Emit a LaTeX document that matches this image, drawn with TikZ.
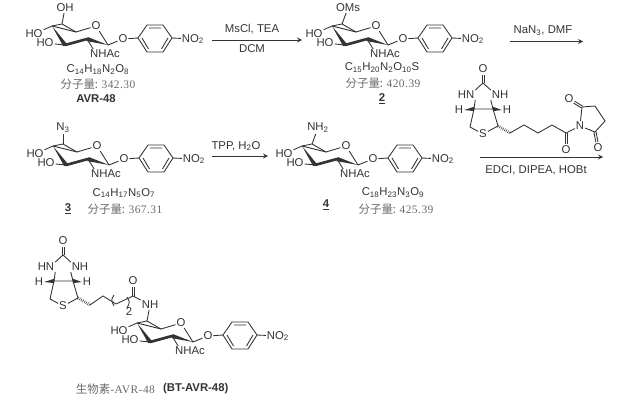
\documentclass[tikz,border=0pt]{standalone}
\usepackage{fontspec}
\setmainfont{Liberation Sans}
\newfontfamily\cjk{Noto Sans CJK SC}
\newfontfamily\numfont[LetterSpace=4]{Liberation Serif}
\usetikzlibrary{calc}
\definecolor{bondgray}{gray}{0.2}
\definecolor{mwgray}{gray}{0.42}
\newcommand{\chemfont}{\fontsize{8.5}{10}\selectfont}
\newcommand{\molwt}[1]{{\fontsize{8.6}{10}\selectfont\color{mwgray}\cjk 分子量: \numfont #1}}
\newcommand{\wedgebond}[2]{\fill[bondgray] (#1) -- ($(#2)!1.6pt!90:(#1)$) -- ($(#2)!1.6pt!-90:(#1)$) -- cycle;}
\newcommand{\dblbond}[2]{\draw[bond, shorten >=4.5pt] ($(#1)!.8pt!90:(#2)$) -- ($(#2)!.8pt!-90:(#1)$);
    \draw[bond, shorten >=4.5pt] ($(#1)!.8pt!-90:(#2)$) -- ($(#2)!.8pt!90:(#1)$);}
\tikzset{
    bond/.style={line width=.65pt, draw=bondgray},
    boldbond/.style={line width=2pt, draw=bondgray, line cap=round},
    hashbond/.style={line width=2.2pt, draw=bondgray, dash pattern=on .4pt off 1pt},
    atom/.style={inner sep=.6pt, font=\chemfont, text=bondgray},
    pics/sugar/.style 2 args={code={
        \coordinate (-c2) at (0,0);
        \coordinate (-c1) at (21,6);
        \coordinate (-c3) at (-22,6);
        \coordinate (-c4) at (-35,-13);
        \coordinate (-c5) at (-11,-7);
        \coordinate (-c6) at (-25,-15);
        \node[atom] (-o) at (9,-13) {O};
        \node[atom] (-r) at (#1,-31) {#2};
        \node[atom] (-ho) at (-53,-5) {HO};
        \node[atom] (-hob) at (-42,4) {HO};
        \node[atom] (-ac) at (18,15) {NHAc};
        \node[atom] (-op) at (36,0) {O};
        \node[atom] (-no) at (106,0) {NO\textsubscript{2}};
        \coordinate (-p1) at (51,-1);
        \coordinate (-p2) at (60,-14);
        \coordinate (-p3) at (76,-14);
        \coordinate (-p4) at (85,-1);
        \coordinate (-p5) at (76,13);
        \coordinate (-p6) at (60,13);
        \draw[bond] (-c4) -- (-c5) -- (-o) -- (-c1) -- (-op) -- (-p1);
        \draw[bond] (-c4) -- (-c6) -- (-c5);
        \draw[bond] (-c6) -- (-r);
        \draw[bond] (-c4) -- (-ho);
        \draw[bond] (-c3) -- (-hob);
        \draw[bond] (-c2) -- ([xshift=3pt]-ac.north west);
        \draw[bond] (-p1) -- (-p2) -- (-p3) -- (-p4) -- (-p5) -- (-p6) -- cycle;
        \draw[bond] (62,-11) -- (74,-11) (55,-1) -- (61.5,10) (74.5,10) -- (81,-1);
        \draw[bond] (-p4) -- (-no);
        \draw[boldbond] (-c3) -- (-c2);
        \wedgebond{-c4}{-c3}
        \wedgebond{-c1}{-c2}
    }},
    pics/biotin/.style={code={
        \coordinate (-bl) at (0,0);
        \coordinate (-br) at (19,0);
        \coordinate (-cu) at (9,-26);
        \coordinate (-rl) at (-4,18);
        \coordinate (-rr) at (24,17);
        \coordinate (-t) at (36,24);
        \node[atom] (-ou) at (9,-40) {O};
        \node[atom] (-hn) at (-8,-14) {HN};
        \node[atom] (-nh) at (26,-14) {NH};
        \node[atom] (-hl) at (-15,1) {H};
        \node[atom] (-hr) at (33,1) {H};
        \node[atom] (-s) at (9,25) {S};
        \dblbond{-cu}{-ou}
        \draw[bond] (-hn.north east) -- (-cu) -- (-nh.north west);
        \draw[bond] (-hn.south east) -- (-bl) -- (-br) -- (-nh.south west);
        \draw[bond] (-bl) -- (-rl) -- (-s) -- (-rr) -- (-br);
        \draw[hashbond] (-rr) -- (-t);
        \wedgebond{-hl.east}{-bl}
        \wedgebond{-hr.west}{-br}
    }}
}
\begin{document}
\begin{tikzpicture}[x=.75pt, y=-.75pt]
    \useasboundingbox (0,0) rectangle (623,403);
    % first row
    \pic (avr) at (87,39) {sugar={-22}{OH}};
    \node[atom] (fa) at (98,70) {C\textsubscript{14}H\textsubscript{18}N\textsubscript{2}O\textsubscript{8}};
    \node[atom] (wa) at (98,84) {\molwt{342.30}};
    \node[atom] (na) at (96,99) {\textbf{AVR-48}};
    \coordinate (a1s) at (212,40);
    \coordinate (a1e) at (302,40);
    \draw[bond,->,>=stealth] (a1s) -- (a1e);
    \node[atom] (ca) at (252,29) {MsCl, TEA};
    \node[atom] (cb) at (252,49) {DCM};
    \pic (ms) at (367,39) {sugar={-19}{OMs}};
    \node[atom] (fb) at (382,68) {C\textsubscript{15}H\textsubscript{20}N\textsubscript{2}O\textsubscript{10}S};
    \node[atom] (wb) at (383,83) {\molwt{420.39}};
    \node[atom] (nb) at (382,99) {\textbf{\underline{2}}};
    \coordinate (a2s) at (510,41.5);
    \coordinate (a2e) at (583,41.5);
    \draw[bond,->,>=stealth] (a2s) -- (a2e);
    \node[atom] (cc) at (543,31) {NaN\textsubscript{3}, DMF};
    % second row
    \pic (az) at (88,159) {sugar={-25}{N\textsubscript{3}}};
    \node[atom] (fc) at (124,193) {C\textsubscript{14}H\textsubscript{17}N\textsubscript{5}O\textsubscript{7}};
    \node[atom] (wc) at (125,209) {\molwt{367.31}};
    \node[atom] (nc) at (68,209) {\textbf{\underline{3}}};
    \coordinate (a3s) at (212,156);
    \coordinate (a3e) at (268,156);
    \draw[bond,->,>=stealth] (a3s) -- (a3e);
    \node[atom] (cd) at (236,146) {TPP, H\textsubscript{2}O};
    \pic (am) at (337,159) {sugar={-19}{NH\textsubscript{2}}};
    \node[atom] (fd) at (393,193) {C\textsubscript{18}H\textsubscript{23}N\textsubscript{3}O\textsubscript{9}};
    \node[atom] (wd) at (396,209) {\molwt{425.39}};
    \node[atom] (nd) at (326,205) {\textbf{\underline{4}}};
    % activated biotin
    \pic (bta) at (474,109) {biotin};
    \node[atom] (imn) at (580,126) {N};
    \node[atom] (oa) at (566,150) {O};
    \node[atom] (ob) at (569,99) {O};
    \node[atom] (oc) at (598,148) {O};
    \draw[bond] (bta-t) -- ++(14,-8) -- ++(14,8) -- ++(14,-8) -- ++(14,8) coordinate (coa) -- (imn);
    \dblbond{coa}{oa}
    \draw[bond] (imn) -- (582,107) coordinate (cca) -- (595,106) -- (605,121) -- (595,132) coordinate (ccb) -- (imn);
    \dblbond{cca}{ob}
    \dblbond{ccb}{oc}
    \coordinate (a4s) at (480,157);
    \coordinate (a4e) at (603,157);
    \draw[bond,->,>=stealth] (a4s) -- (a4e);
    \node[atom] (ce) at (536,170) {EDCI, DIPEA, HOBt};
    % conjugate
    \pic (btb) at (54,281) {biotin};
    \pic (bts) at (172,336) {sugar={-22}{NH}};
    \node[atom] (od) at (133,281) {O};
    \draw[bond] (btb-t) -- ++(13,-9) -- ++(13,8) -- ++(17,-8) coordinate (cob) -- (bts-r);
    \dblbond{cob}{od}
    \draw[bond] (114,295) .. controls (111,300) .. (114,306);
    \draw[bond] (127,297) .. controls (130,302) .. (127,308);
    \node[atom] (nn) at (129,312) {2};
    \node[atom, anchor=east] (ne) at (156,389) {\fontsize{8.6}{10}\selectfont\color{mwgray}\cjk 生物素\numfont -AVR-48};
    \node[atom, anchor=west] (nf) at (162,389) {\textbf{(BT-AVR-48)}};
\end{tikzpicture}
\end{document}
